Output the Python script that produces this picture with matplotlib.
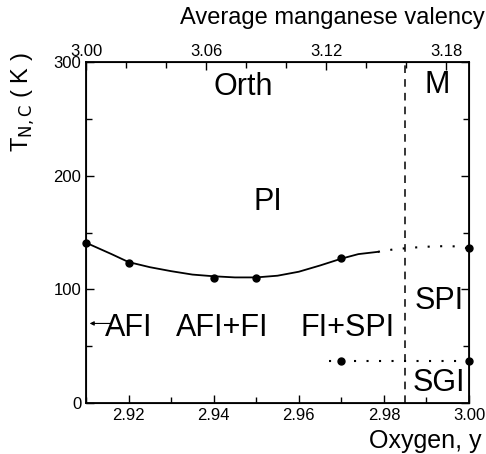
import numpy as np
import matplotlib.pyplot as plt
from matplotlib.ticker import MultipleLocator, FormatStrFormatter

plt.rcParams['font.family'] = ['Liberation Sans', 'DejaVu Sans']

# measured points
y_pts = [2.91, 2.92, 2.94, 2.95, 2.97, 3.00]
t_pts = [141, 123, 110, 110, 128, 136]
y_sgi = [2.97, 3.00]
t_sgi = [37, 37]

# solid boundary
y_curve = [2.91, 2.913, 2.916, 2.92, 2.925, 2.93, 2.935, 2.94, 2.945, 2.95,
           2.955, 2.96, 2.965, 2.97, 2.974, 2.9786]
t_curve = [141, 136, 131, 124, 119.5, 116, 113, 111.5, 110.5, 110.5,
           112, 115.5, 121, 127, 131, 133]
# dotted continuation
y_dot = [2.9786, 2.982, 2.986, 2.99, 2.994, 2.997, 3.00]
t_dot = [133, 135, 136.5, 137.5, 138, 137.8, 136]
y_dot2 = [2.967, 3.00]
t_dot2 = [37, 37]

x_border = 2.985

labels = ['Orth', 'M', 'PI', 'AFI', 'AFI+FI', 'FI+SPI', 'SPI', 'SGI']
lab_x = [2.947, 2.9925, 2.9527, 2.920, 2.942, 2.9715, 2.993, 2.993]
lab_y = [278, 280, 177, 66, 66, 66, 90, 18]

fig = plt.figure(figsize=(4.86, 4.54), dpi=100)
ax = fig.add_axes([0.177, 0.1123, 0.788, 0.7511])

ax.plot(y_curve, t_curve, '-k', lw=1.3)
ax.plot(y_dot, t_dot, color='k', ls=(0, (1, 5)), lw=1.5)
ax.plot(y_dot2, t_dot2, color='k', ls=(0, (1, 5)), lw=1.5)
ax.plot(y_pts, t_pts, 'ko', ms=5, clip_on=False)
ax.plot(y_sgi, t_sgi, 'ko', ms=5, clip_on=False)
ax.axvline(x_border, color='k', ls=(0, (5, 4)), lw=1.1)

for s, xx, yy in zip(labels, lab_x, lab_y):
    ax.text(xx, yy, s, fontsize=22, ha='center', va='center')

ax.annotate('', xy=(2.9102, 70), xytext=(2.9165, 70),
            arrowprops=dict(arrowstyle='-|>', color='k', lw=0.8,
                            mutation_scale=6))

ax.set_xlim(2.91, 3.00)
ax.set_ylim(0, 300)
ax.xaxis.set_major_locator(MultipleLocator(0.02))
ax.xaxis.set_minor_locator(MultipleLocator(0.01))
ax.xaxis.set_major_formatter(FormatStrFormatter('%.2f'))
ax.yaxis.set_major_locator(MultipleLocator(100))
ax.yaxis.set_minor_locator(MultipleLocator(50))
ax.tick_params(which='both', direction='in', labelsize=12, right=True, width=1)
ax.tick_params(which='major', length=6)
ax.tick_params(which='minor', length=4)
ax.set_xticks([2.92, 2.94, 2.96, 2.98, 3.00])
for sp in ax.spines.values():
    sp.set_linewidth(1.3)

ax.set_xlabel('Oxygen, y', fontsize=18, ha='right', va='center')
ax.xaxis.set_label_coords(1.032, -0.111)
ax.set_ylabel(r'T$_{\rm N,C}$ ( K )', fontsize=17, va='center')
ax.yaxis.set_label_coords(-0.164, 0.883)

top = ax.twiny()
top.set_xlim(3.00, 3.1915)
top.xaxis.set_major_locator(MultipleLocator(0.06))
top.xaxis.set_minor_locator(MultipleLocator(0.02))
top.xaxis.set_major_formatter(FormatStrFormatter('%.2f'))
top.tick_params(which='both', direction='in', labelsize=12, width=1, pad=2)
top.tick_params(which='major', length=6)
top.tick_params(which='minor', length=4)
top.set_xlabel('Average manganese valency', fontsize=17, ha='right', va='center')
top.xaxis.set_label_coords(1.04, 1.129)

fig.savefig('out.png', dpi=100)
